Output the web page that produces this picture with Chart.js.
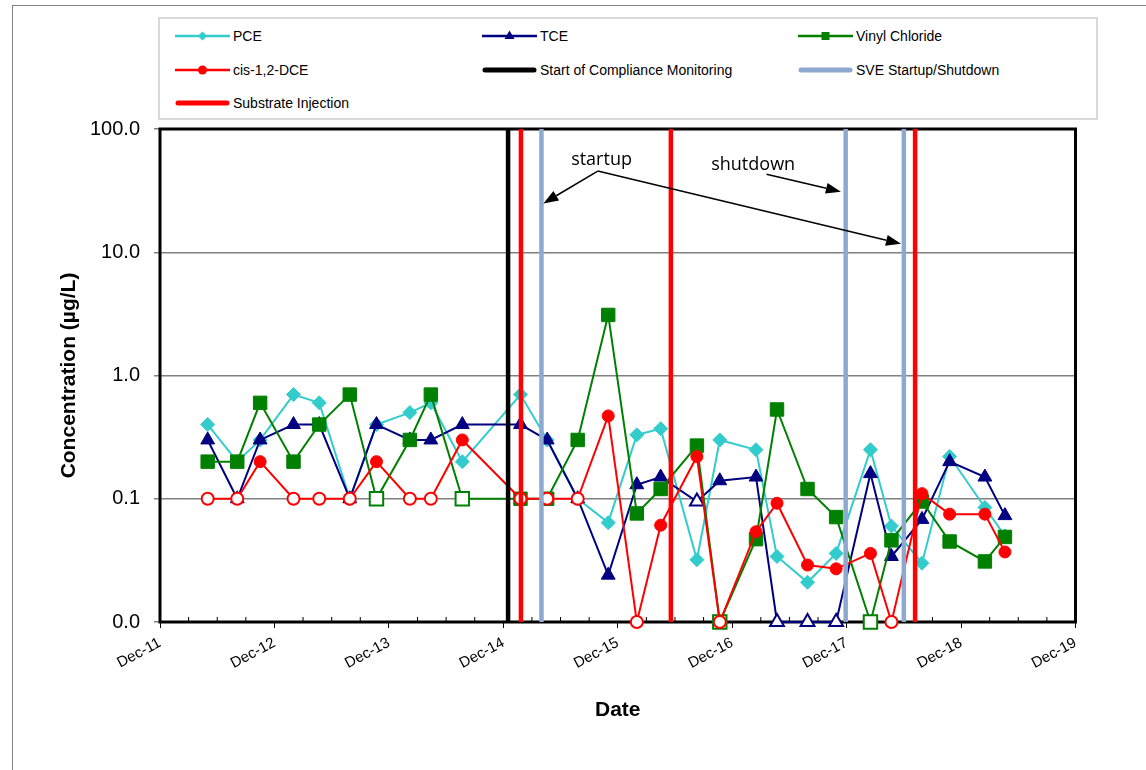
<!DOCTYPE html>
<html>
<head>
<meta charset="utf-8">
<script src="https://cdn.jsdelivr.net/npm/chart.js@4.4.1/dist/chart.umd.min.js"></script>
<style>
  html, body { margin: 0; padding: 0; background: #fff; }
  #wrap { position: relative; width: 1146px; height: 770px; overflow: hidden; font-family: "Liberation Sans", Arial, sans-serif; }
  #frame { position: absolute; left: 12px; top: 5px; width: 1200px; height: 800px; border-left: 1px solid #808080; border-top: 1px solid #808080; }
  #chart { position: absolute; left: 0; top: 0; }
  #legend { position: absolute; left: 158px; top: 17px; width: 936px; height: 99px; border: 2px solid #d9d9d9; background: #fff; }
  .item { position: absolute; height: 20px; display: flex; align-items: center; font-size: 14px; color: #000; white-space: nowrap; }
  .item canvas { margin-right: 3px; }
</style>
</head>
<body>
<div id="wrap">
  <div id="frame"></div>
  <canvas id="chart" width="1146" height="770"></canvas>
  <div id="legend"></div>
</div>
<script>
// sampling dates, in months after Dec-2011
const sampleMonths = [5.0, 8.1, 10.5, 14.0, 16.7, 19.9, 22.7, 26.2, 28.4, 31.7, 37.8, 40.6, 43.8, 47.0,
  50.0, 52.5, 56.3, 58.7, 62.5, 64.7, 67.9, 70.9, 74.5, 76.7, 79.9, 82.8, 86.5, 88.6];

// concentrations (ug/L); non-detects plotted at 0.01 or at reporting limit
const pce = [0.4, 0.2, 0.3, 0.7, 0.6, 0.1, 0.4, 0.5, 0.6, 0.2, 0.7, 0.3, 0.1, 0.064,
  0.33, 0.37, 0.032, 0.3, 0.25, 0.034, 0.021, 0.036, 0.25, 0.06, 0.03, 0.22, 0.085, 0.05];
const tce = [0.3, 0.1, 0.3, 0.4, 0.4, 0.1, 0.4, 0.3, 0.3, 0.4, 0.4, 0.3, 0.1, 0.024,
  0.13, 0.15, 0.095, 0.14, 0.15, 0.01, 0.01, 0.01, 0.16, 0.034, 0.068, 0.2, 0.15, 0.073];
const vinylChloride = [0.2, 0.2, 0.6, 0.2, 0.4, 0.7, 0.1, 0.3, 0.7, 0.1, 0.1, 0.1, 0.3, 3.1,
  0.076, 0.12, 0.27, 0.01, 0.047, 0.53, 0.12, 0.071, 0.01, 0.046, 0.095, 0.045, 0.031, 0.049];
const cisDce = [0.1, 0.1, 0.2, 0.1, 0.1, 0.1, 0.2, 0.1, 0.1, 0.3, 0.1, 0.1, 0.1, 0.47,
  0.01, 0.061, 0.22, 0.01, 0.054, 0.092, 0.029, 0.027, 0.036, 0.01, 0.11, 0.075, 0.075, 0.037];

// indexes of non-detect results (open markers)
const pceND = [];
const tceND = [16, 19, 20, 21];
const vinylChlorideND = [6, 9, 17, 22];
const cisDceND = [0, 1, 3, 4, 5, 7, 8, 10, 11, 12, 14, 17, 23];

// events, months after Dec-2011
const complianceStart = [36.5];
const sveEvents = [40.0, 71.9, 78.0];
const injections = [37.85, 53.57, 79.18];

const xTickLabels = ['Dec-11', 'Dec-12', 'Dec-13', 'Dec-14', 'Dec-15', 'Dec-16', 'Dec-17', 'Dec-18', 'Dec-19'];
const yTickValues = [0.01, 0.1, 1, 10, 100];
const yTickLabels = ['0.0', '0.1', '1.0', '10.0', '100.0'];

// callout text and arrows (month, concentration)
const notes = [
  { text: 'startup', x: 46.3, y: 56 },
  { text: 'shutdown', x: 62.2, y: 51 }
];
const arrows = [
  { from: [45.9, 45.6], to: [40.2, 24.9] },
  { from: [45.9, 45.6], to: [77.7, 11.7] },
  { from: [63.6, 43], to: [71.4, 31] }
];

function series(label, values, nd, color, shape, radius, order) {
  return {
    label, order, color, shape,
    data: sampleMonths.map((m, i) => ({ x: m, y: values[i] })),
    borderColor: color,
    borderWidth: 2,
    pointStyle: shape,
    pointRadius: radius,
    pointBorderColor: color,
    pointBorderWidth: ctx => nd.includes(ctx.dataIndex) ? 2 : 1,
    pointBackgroundColor: ctx => nd.includes(ctx.dataIndex) ? '#fff' : color,
    clip: false
  };
}

function verticals(label, months, color, order) {
  const pts = [];
  months.forEach(m => {
    pts.push({ x: m, y: yTickValues[0] }, { x: m, y: yTickValues[yTickValues.length - 1] }, { x: m, y: null });
  });
  return { label, order, color, data: pts, borderColor: color, borderWidth: 4.5, pointRadius: 0, thick: true };
}

const datasets = [
  series('PCE', pce, pceND, '#33CCCC', 'rectRot', 7, 5),
  series('TCE', tce, tceND, '#000080', 'triangle', 8, 4),
  series('Vinyl Chloride', vinylChloride, vinylChlorideND, '#008000', 'rect', 9.5, 3),
  series('cis-1,2-DCE', cisDce, cisDceND, '#FF0000', 'circle', 6, 2),
  verticals('Start of Compliance Monitoring', complianceStart, '#000000', 1),
  verticals('SVE Startup/Shutdown', sveEvents, '#8EA9D0', 1),
  verticals('Substrate Injection', injections, '#FF0000', 1)
];

const plotFrame = {
  id: 'plotFrame',
  beforeDatasetsDraw(chart) {
    const { ctx, chartArea: a, scales: { x } } = chart;
    ctx.save();
    ctx.strokeStyle = '#000';
    ctx.lineWidth = 1;
    x.ticks.forEach(t => {
      if (t.value % 12) {
        const px = x.getPixelForValue(t.value);
        ctx.beginPath(); ctx.moveTo(px, a.bottom); ctx.lineTo(px, a.bottom - 5); ctx.stroke();
      }
    });
    ctx.lineWidth = 3;
    ctx.strokeRect(a.left, a.top, a.right - a.left, a.bottom - a.top);
    ctx.restore();
  }
};

const callouts = {
  id: 'callouts',
  afterDatasetsDraw(chart) {
    const { ctx, scales: { x, y } } = chart;
    ctx.save();
    ctx.strokeStyle = '#000';
    ctx.fillStyle = '#000';
    ctx.lineWidth = 1.5;
    arrows.forEach(a => {
      const x0 = x.getPixelForValue(a.from[0]), y0 = y.getPixelForValue(a.from[1]);
      const x1 = x.getPixelForValue(a.to[0]), y1 = y.getPixelForValue(a.to[1]);
      const ang = Math.atan2(y1 - y0, x1 - x0), len = 15, half = 5.5;
      const bx = x1 - len * Math.cos(ang), by = y1 - len * Math.sin(ang);
      ctx.beginPath(); ctx.moveTo(x0, y0); ctx.lineTo(bx, by); ctx.stroke();
      ctx.beginPath();
      ctx.moveTo(x1, y1);
      ctx.lineTo(bx + half * Math.sin(ang), by - half * Math.cos(ang));
      ctx.lineTo(bx - half * Math.sin(ang), by + half * Math.cos(ang));
      ctx.closePath(); ctx.fill();
    });
    ctx.font = '18px "Open Sans"';
    ctx.textAlign = 'center';
    ctx.textBaseline = 'middle';
    notes.forEach(n => ctx.fillText(n.text, x.getPixelForValue(n.x), y.getPixelForValue(n.y)));
    ctx.restore();
  }
};

const chart = new Chart(document.getElementById('chart'), {
  type: 'line',
  data: { datasets },
  plugins: [plotFrame, callouts],
  options: {
    responsive: false,
    animation: false,
    layout: { padding: { left: 57, top: 129, right: 70.5, bottom: 47 } },
    plugins: { legend: { display: false }, tooltip: { enabled: false } },
    scales: {
      x: {
        type: 'linear', min: 0, max: 96,
        afterFit: s => { s.height = 101; },
        border: { display: false },
        grid: {
          drawOnChartArea: false, tickLength: 6,
          tickColor: ctx => ctx.tick && ctx.tick.value % 12 === 0 ? '#000' : 'transparent'
        },
        ticks: {
          stepSize: 3, autoSkip: false, minRotation: 28, maxRotation: 28, padding: 6,
          color: '#000', font: { family: '"Liberation Sans", Arial', size: 15 },
          callback: v => v % 12 === 0 ? xTickLabels[v / 12] : ''
        },
        title: { display: true, text: 'Date', color: '#000', padding: 0,
          font: { family: '"Liberation Sans", Arial', size: 21, weight: 'bold' } }
      },
      y: {
        type: 'logarithmic', min: 0.01, max: 100,
        afterFit: s => { s.width = 103; },
        afterBuildTicks: s => { s.ticks = yTickValues.map(v => ({ value: v })); },
        border: { display: false },
        grid: { color: '#808080', lineWidth: 1.5, tickLength: 6, tickColor: '#808080' },
        ticks: {
          padding: 14, color: '#000', font: { family: '"Liberation Sans", Arial', size: 20 },
          callback: v => yTickLabels[yTickValues.indexOf(v)]
        },
        title: { display: true, text: 'Concentration (µg/L)', color: '#000', padding: 0,
          font: { family: '"Liberation Sans", Arial', size: 21, weight: 'bold' } }
      }
    }
  }
});

// html legend in three columns
const colX = [15, 322, 638];
const rowY = [7, 41, 74];
const legend = document.getElementById('legend');
chart.data.datasets.forEach((ds, i) => {
  const item = document.createElement('div');
  item.className = 'item';
  item.style.left = colX[i % 3] + 'px';
  item.style.top = rowY[Math.floor(i / 3)] + 'px';
  const sw = document.createElement('canvas');
  sw.width = 55; sw.height = 20;
  const g = sw.getContext('2d');
  g.strokeStyle = ds.color;
  g.lineWidth = ds.thick ? 5 : 2.5;
  g.lineCap = ds.thick ? 'round' : 'butt';
  g.beginPath(); g.moveTo(ds.thick ? 3 : 0, 10); g.lineTo(ds.thick ? 52 : 55, 10); g.stroke();
  if (!ds.thick) {
    const cx = 27.5, cy = 10;
    g.fillStyle = ds.color;
    g.beginPath();
    if (ds.shape === 'rectRot') { g.moveTo(cx, cy - 4.5); g.lineTo(cx + 4.5, cy); g.lineTo(cx, cy + 4.5); g.lineTo(cx - 4.5, cy); }
    else if (ds.shape === 'triangle') { g.moveTo(cx, cy - 5.5); g.lineTo(cx + 5, cy + 3); g.lineTo(cx - 5, cy + 3); }
    else if (ds.shape === 'rect') { g.rect(cx - 4, cy - 4, 8, 8); }
    else { g.arc(cx, cy, 4.5, 0, Math.PI * 2); }
    g.closePath(); g.fill();
  }
  item.appendChild(sw);
  item.appendChild(document.createTextNode(ds.label));
  legend.appendChild(item);
});
</script>
</body>
</html>
